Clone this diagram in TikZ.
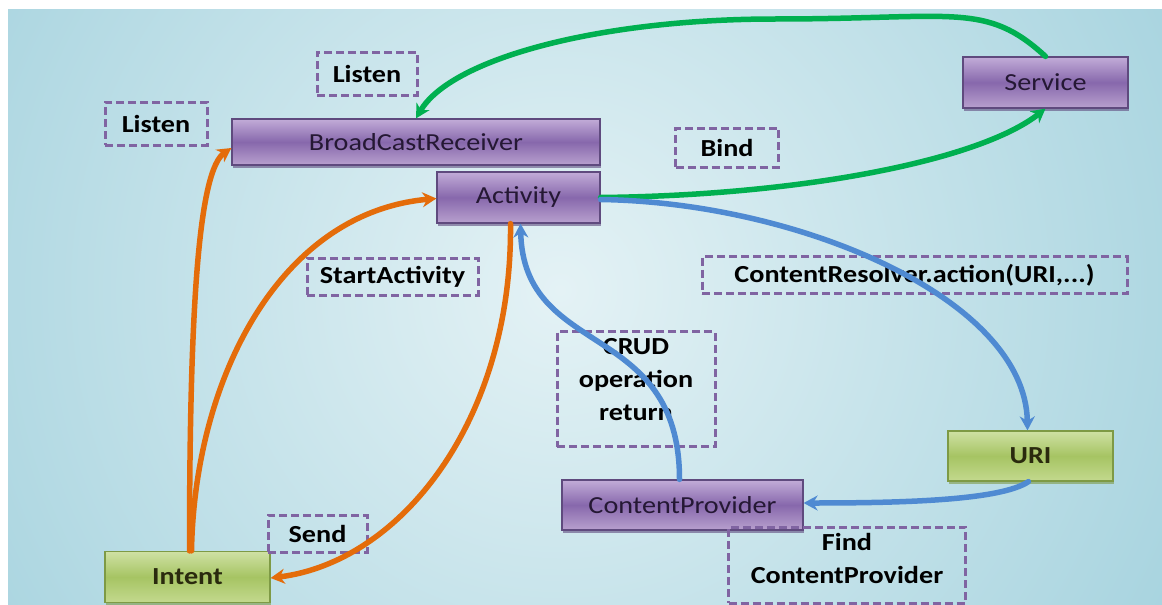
\documentclass[tikz,border=0pt]{standalone}
\usepackage{fontspec}
\setmainfont{Carlito}[FakeStretch=1.15]
\usetikzlibrary{arrows.meta,shadows}

\definecolor{bgin}{HTML}{E4F2F5}
\definecolor{bgout}{HTML}{9CCEDB}
\definecolor{pTop}{HTML}{C2ACD8}
\definecolor{pMid}{HTML}{8768AC}
\definecolor{pBot}{HTML}{B8A0CE}
\definecolor{pEdge}{HTML}{5F4A7E}
\definecolor{pText}{HTML}{251834}
\definecolor{gTop}{HTML}{CFE1A4}
\definecolor{gMid}{HTML}{A6C463}
\definecolor{gBot}{HTML}{C3D98E}
\definecolor{gEdge}{HTML}{7E9A45}
\definecolor{gText}{HTML}{2A2A0E}
\definecolor{dashC}{HTML}{8064A2}
\definecolor{arrOrange}{HTML}{E46C0A}
\definecolor{arrGreen}{HTML}{00B050}
\definecolor{arrBlue}{HTML}{4F8AD2}

\tikzset{
  x=1pt, y=-1pt,
  every node/.style={font=\fontsize{24.5}{32}\selectfont, inner sep=0pt},
  purplebox/.style={draw=pEdge, line width=1.2pt, top color=pTop, bottom color=pBot,
    middle color=pMid, text=pText,
    drop shadow={shadow xshift=1pt, shadow yshift=-2.5pt, opacity=0.6, fill=pEdge}},
  greenbox/.style={draw=gEdge, line width=1.2pt, top color=gTop, bottom color=gBot,
    middle color=gMid, text=gText, font=\fontsize{24.5}{32}\selectfont\bfseries,
    drop shadow={shadow xshift=1pt, shadow yshift=-2.5pt, opacity=0.6, fill=gEdge}},
  tagbox/.style={draw=dashC, line width=3pt, dash pattern=on 8pt off 4pt,
    font=\fontsize{24.5}{33}\selectfont\bfseries, text=black, align=center},
  flow/.style={line width=5.5pt, line cap=round, -{Stealth[length=14pt,width=15pt]}},
}

\begin{document}
\begin{tikzpicture}
  \useasboundingbox (0,0) rectangle (1162,605);
  % backdrop
  \begin{scope}
    \clip (8,9) rectangle (1162,605);
    \fill[bgout] (8,9) rectangle (1162,605);
    \shade[inner color=bgin, outer color=bgout] (560,290) circle (820);
  \end{scope}

  % components
  \node[purplebox, minimum width=368pt, minimum height=46pt] (bcr) at (416,142) {BroadCastReceiver};
  \node[purplebox, minimum width=163pt, minimum height=51pt] (act) at (518.5,197.5) {Activity};
  \node[purplebox, minimum width=165pt, minimum height=51pt] (svc) at (1045.5,82.5) {Service};
  \node[purplebox, minimum width=241pt, minimum height=50pt] (cp) at (682.5,505) {ContentProvider};
  \node[greenbox, minimum width=165pt, minimum height=50pt] (uri) at (1030.5,456) {URI};
  \node[greenbox, minimum width=165pt, minimum height=51pt] (intent) at (187.5,577) {Intent};

  % dashed labels
  \node[tagbox, minimum width=100pt, minimum height=43pt] (lisA) at (367,73.5) {Listen};
  \node[tagbox, minimum width=102pt, minimum height=43pt] (lisB) at (156,123.5) {Listen};
  \node[tagbox, minimum width=103pt, minimum height=39pt] (bind) at (727,147.5) {Bind};
  \node[tagbox, minimum width=171pt, minimum height=37pt] (start) at (392.5,276.5) {StartActivity};
  \node[tagbox, minimum width=425pt, minimum height=37pt] (cres) at (914.5,275) {ContentResolver.action(URI,...)};
  \node[tagbox, minimum width=158pt, minimum height=115pt] (crud) at (636,389)
       {\raisebox{8pt}[\height][\depth]{\begin{tabular}{@{}c@{}}CRUD\\operation\\return\end{tabular}}};
  \node[tagbox, minimum width=237pt, minimum height=76pt] (find) at (847,565)
       {\raisebox{5pt}[\height][\depth]{\begin{tabular}{@{}c@{}}Find\\ContentProvider\end{tabular}}};
  \node[tagbox, minimum width=99pt, minimum height=37pt] (send) at (317.5,533.5) {Send};

  % intents
  \draw[flow, arrOrange] ([xshift=2pt]intent.north) .. controls +(0,-252) and +(-32,22) .. ([yshift=-6pt]bcr.west);
  \draw[flow, arrOrange] ([xshift=4pt]intent.north) .. controls +(3,-172) and +(-157,14) .. ([yshift=-1pt]act.west);
  \draw[flow, arrOrange] ([xshift=-8pt]act.south) .. controls +(2,197) and +(130,-16) .. ([yshift=-1pt]intent.east);

  % service binding
  \draw[flow, arrGreen] (svc.north) .. controls +(-60,-55) and +(180,0) .. (775,19)
        .. controls +(-175,0) and +(35,-60) .. (bcr.north);
  \draw[flow, arrGreen] (act.east) .. controls +(200,-2) and +(-66,52) .. (svc.south);

  % content access
  \draw[flow, arrBlue] ([yshift=-2pt]act.east) .. controls +(200,3) and +(-2,-131) .. ([xshift=-3pt]uri.north);
  \draw[flow, arrBlue] ([xshift=-2pt]uri.south) .. controls +(-28,19) and +(97,0) .. ([yshift=2pt]cp.east);
  \draw[flow, arrBlue] ([xshift=-3pt]cp.north) .. controls +(0,-160) and +(3,136) .. ([xshift=2pt]act.south);
\end{tikzpicture}
\end{document}
